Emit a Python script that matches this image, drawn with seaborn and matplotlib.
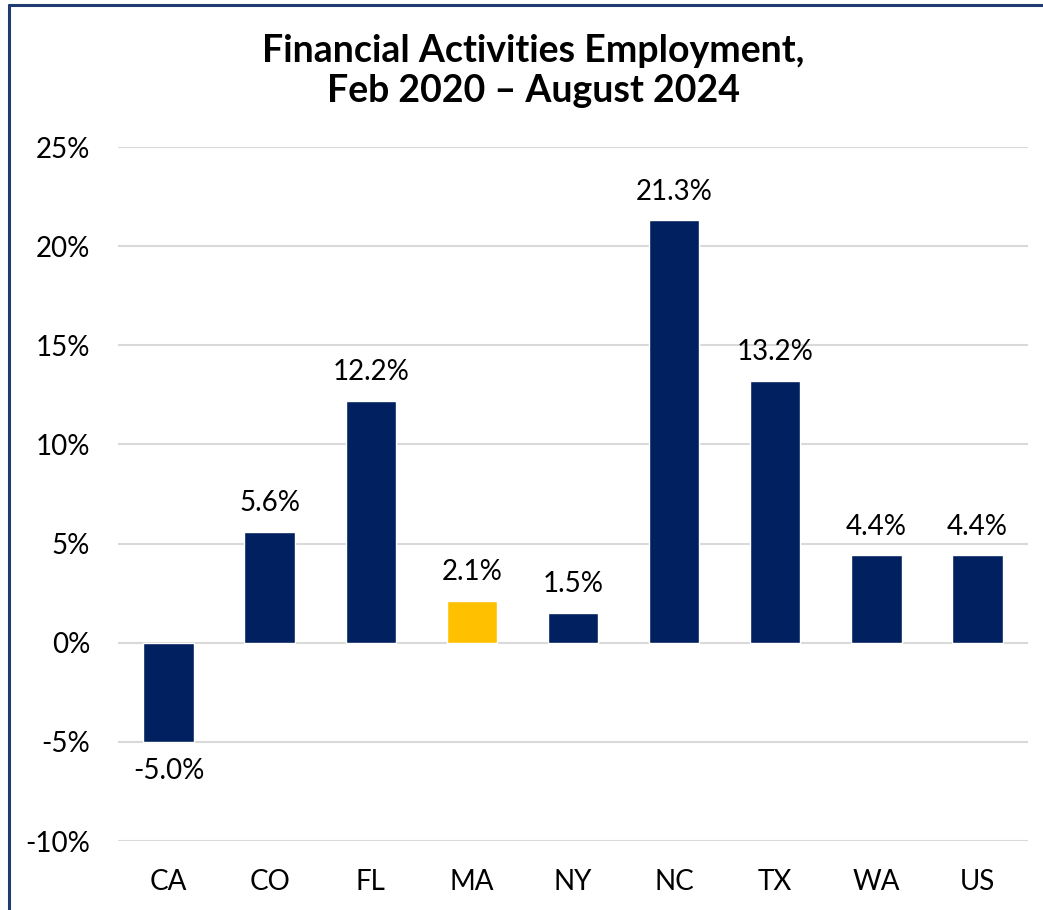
import matplotlib
matplotlib.use("Agg")
import matplotlib.pyplot as plt
import numpy as np
import pandas as pd
import seaborn as sns
from matplotlib.lines import Line2D

# data
states = ["CA", "CO", "FL", "MA", "NY", "NC", "TX", "WA", "US"]
change = [-5.0, 5.6, 12.2, 2.1, 1.5, 21.3, 13.2, 4.4, 4.4]
highlight = "MA"
y_ticks = [-10, -5, 0, 5, 10, 15, 20, 25]

navy = "#002060"
gold = "#FFC000"

df = pd.DataFrame({"state": states, "change": change})
palette = {s: (gold if s == highlight else navy) for s in states}

sns.set_theme(style="white")
plt.rcParams["font.family"] = ["Lato", "DejaVu Sans"]
plt.rcParams["text.color"] = "black"

fig = plt.figure(figsize=(10.43, 9.1), dpi=100)
ax = fig.add_axes([118 / 1043, 1 - 841 / 910, 910 / 1043, (841 - 147) / 910])

sns.barplot(data=df, x="state", y="change", hue="state", palette=palette,
            width=0.5, legend=False, ax=ax, zorder=3, saturation=1)

ax.set_ylim(-10, 25)
ax.set_yticks(y_ticks)
ax.set_yticklabels([f"{t}%" for t in y_ticks], fontsize=20, color="black")
ax.tick_params(axis="x", labelsize=20, colors="black", pad=20, length=0)
ax.tick_params(axis="y", pad=20, length=0)
ax.set_xlabel("")
ax.set_ylabel("")
ax.yaxis.grid(True, color="#d9d9d9", linewidth=1.5, zorder=0)
ax.set_axisbelow(True)
for sp in ax.spines.values():
    sp.set_visible(False)

for i, v in enumerate(change):
    if v >= 0:
        ax.text(i, v + 0.8, f"{v:.1f}%", ha="center", va="bottom", fontsize=20)
    else:
        ax.text(i, v - 0.8, f"{v:.1f}%", ha="center", va="top", fontsize=20)

fig.text(533 / 1043, 1 - 71 / 910,
         "Financial Activities Employment,\nFeb 2020 \u2013 August 2024",
         ha="center", va="center", fontsize=27, fontweight="bold",
         linespacing=1.25)

# dark blue frame on the left and top edges
border = "#1F3B73"
fig.add_artist(Line2D([9 / 1043, 9 / 1043], [0, 1 - 5 / 910], color=border,
                      linewidth=2.2, transform=fig.transFigure))
fig.add_artist(Line2D([9 / 1043, 1], [1 - 5 / 910, 1 - 5 / 910], color=border,
                      linewidth=2.2, transform=fig.transFigure))

fig.savefig("out.png", dpi=100)
